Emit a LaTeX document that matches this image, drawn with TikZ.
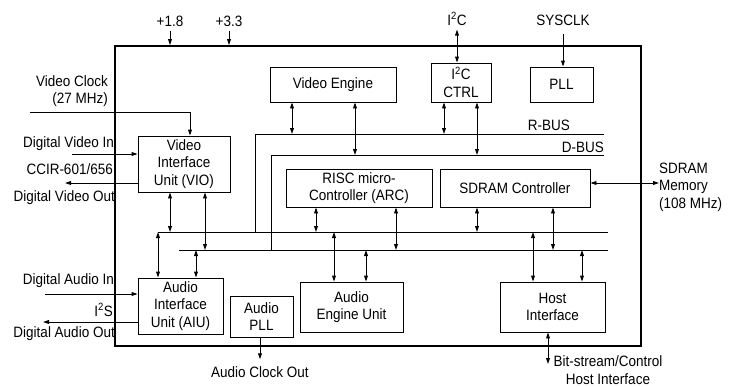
\documentclass[tikz,border=0pt]{standalone}
\usepackage{fontspec}
\setmainfont{Liberation Sans}[FakeStretch=0.9]
\usetikzlibrary{arrows.meta}

\begin{document}
\begin{tikzpicture}[x=1pt, y=-1pt,
  font=\fontsize{15}{17.5}\selectfont,
  blk/.style={draw, line width=0.9pt, align=center, inner sep=0pt},
  bus/.style={line width=0.9pt},
  arr/.style={line width=0.9pt, -{Triangle[length=6pt,width=3.8pt]}},
  dbl/.style={line width=0.9pt, {Triangle[length=6pt,width=3.8pt]}-{Triangle[length=6pt,width=3.8pt]}},
  lbl/.style={inner sep=0pt, align=center}]

  \useasboundingbox (0,0) rectangle (729,386);

  % chip outline
  \node[draw, line width=1.8pt, minimum width=526pt, minimum height=300pt] (chip) at (378,196) {};

  % blocks
  \node[blk, minimum width=126pt, minimum height=35pt] (ve) at (333,84.5) {Video Engine};
  \node[blk, minimum width=60pt, minimum height=39pt] (i2c) at (461,82.5) {I\textsuperscript{2}C\\CTRL};
  \node[blk, minimum width=63pt, minimum height=35pt] (pll) at (561.5,84.5) {PLL};
  \node[blk, minimum width=92pt, minimum height=56pt] (vio) at (184,164) {Video\\Interface\\Unit (VIO)};
  \node[blk, minimum width=146pt, minimum height=38pt] (risc) at (359,188) {RISC micro-\\Controller (ARC)};
  \node[blk, minimum width=150pt, minimum height=38pt] (sdram) at (515,188) {SDRAM Controller};
  \node[blk, minimum width=85pt, minimum height=56pt] (aiu) at (180.5,306) {Audio\\Interface\\Unit (AIU)};
  \node[blk, minimum width=63pt, minimum height=41pt] (apll) at (261.5,316.5) {Audio\\PLL};
  \node[blk, minimum width=103pt, minimum height=50pt] (aeu) at (351.5,307) {Audio\\Engine Unit};
  \node[blk, minimum width=105pt, minimum height=50pt] (host) at (552.5,307) {Host\\Interface};

  % buses
  \coordinate (rbW) at (255,134);
  \coordinate (rbE) at (604,134);
  \coordinate (dbW) at (271,155);
  \coordinate (dbE) at (604,155);
  \coordinate (baW) at (158,232);
  \coordinate (baE) at (608,232);
  \coordinate (bbW) at (179,250);
  \coordinate (bbE) at (608,250);
  \draw[bus] (rbE) -- (rbW) -- (rbW |- baW);
  \draw[bus] (dbE) -- (dbW) -- (dbW |- bbW);
  \draw[bus] (baW) -- (baE);
  \draw[bus] (bbW) -- (bbE);
  \node[lbl, anchor=south east] (rbl) at (570,131) {R-BUS};
  \node[lbl, anchor=south east] (dbl) at (604,152.5) {D-BUS};

  % bus taps
  \foreach \blkname/\dx/\busname in {ve/-41/rbW, ve/22/dbW, i2c/-17/rbW, i2c/16/dbW,
      vio/-14/baW, vio/21/bbW, risc/-43/baW, risc/37/bbW, sdram/-38/baW, sdram/38/bbW}
    \draw[dbl] ([xshift=\dx pt]\blkname.south) -- ([xshift=\dx pt]\blkname.south |- \busname);
  \foreach \blkname/\dx/\busname in {aiu/-22.5/baW, aiu/15.5/bbW, aeu/-17.5/baW, aeu/14.5/bbW,
      host/-19.5/baW, host/29.5/bbW}
    \draw[dbl] ([xshift=\dx pt]\blkname.north |- \busname) -- ([xshift=\dx pt]\blkname.north);

  % supplies and top signals
  \node[lbl] (p18) at (170,21) {+1.8};
  \node[lbl] (p33) at (229,21) {+3.3};
  \draw[arr, shorten <=4pt] (p18.south) -- (p18.south |- chip.north);
  \draw[arr, shorten <=4pt] (p33.south) -- (p33.south |- chip.north);
  \node[lbl] (i2cl) at (457,19) {I\textsuperscript{2}C};
  \draw[dbl, shorten <=4pt] (i2cl.south) -- (i2cl.south |- i2c.north);
  \node[lbl] (sysclk) at (563,20) {SYSCLK};
  \draw[arr, shorten <=8pt] (sysclk.south) -- (sysclk.south |- pll.north);

  % video side
  \node[lbl, align=right, anchor=east] (vclkl) at (108,91) {Video Clock\\(27 MHz)};
  \coordinate (vclk) at (30,112);
  \draw[arr] (vclk) -| ([xshift=6pt]vio.north);
  \node[lbl, anchor=east] (dvinl) at (114,144) {Digital Video In};
  \coordinate (dvin) at (72,154);
  \draw[arr] (dvin) -- (dvin -| vio.west);
  \node[lbl, anchor=east] (ccir) at (113,169) {CCIR-601/656};
  \coordinate (dvout) at (65,183);
  \draw[arr] (dvout -| vio.west) -- (dvout);
  \node[lbl, anchor=east] (dvoutl) at (115,198) {Digital Video Out};

  % audio side
  \node[lbl, anchor=east] (dainl) at (114,281) {Digital Audio In};
  \coordinate (dain) at (45,294);
  \draw[arr] (dain) -- (dain -| aiu.west);
  \node[lbl, anchor=east] (i2sl) at (113,310) {I\textsuperscript{2}S};
  \coordinate (daout) at (43,322);
  \draw[arr] (daout -| aiu.west) -- (daout);
  \node[lbl, anchor=east] (daoutl) at (115,334) {Digital Audio Out};

  % bottom signals
  \node[lbl] (aclkl) at (260,372) {Audio Clock Out};
  \draw[arr, shorten >=7pt] ([xshift=-1.5pt]apll.south) -- ([xshift=-1.5pt]apll.south |- aclkl.north);
  \node[lbl] (bsl) at (608,370) {Bit-stream/Control\\Host Interface};
  \draw[dbl] ([xshift=-4.5pt]host.south) -- ([xshift=-4.5pt]host.south |- 0,364);

  % memory
  \node[lbl, align=left, anchor=west] (meml) at (659,187) {SDRAM\\Memory\\(108 MHz)};
  \draw[dbl] (sdram.east |- 0,183) -- (meml.west |- 0,183);
\end{tikzpicture}
\end{document}
